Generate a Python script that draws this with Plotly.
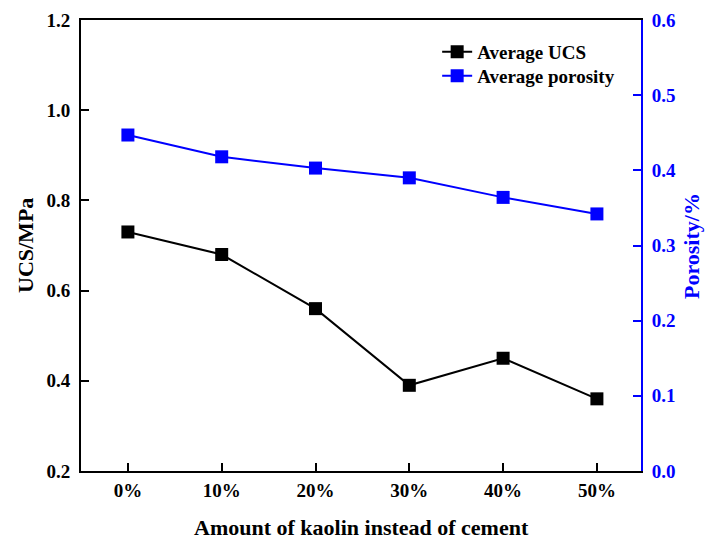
import plotly.graph_objects as go

# Kaolin replacement levels and measured averages
kaolin_levels = ["0%", "10%", "20%", "30%", "40%", "50%"]
avg_ucs = [0.73, 0.68, 0.56, 0.39, 0.45, 0.36]          # MPa
avg_porosity = [0.447, 0.418, 0.403, 0.390, 0.364, 0.342]

FONT = "Liberation Serif"
BLUE = "#0000FF"
W, H = 705, 539
M_L, M_R, M_T, M_B = 81, 64, 20, 68

fig = go.Figure()

fig.add_trace(go.Scatter(
    x=kaolin_levels, y=avg_ucs, name="Average UCS",
    mode="lines+markers",
    line=dict(color="black", width=2),
    marker=dict(symbol="square", size=13, color="black"),
    yaxis="y", legend="legend",
))

fig.add_trace(go.Scatter(
    x=kaolin_levels, y=avg_porosity, name="Average porosity",
    mode="lines+markers",
    line=dict(color=BLUE, width=2),
    marker=dict(symbol="square", size=13, color=BLUE),
    yaxis="y2", legend="legend2",
))

tick_font = dict(family=FONT, size=19, color="black", weight="bold")
legend_font = dict(family=FONT, size=19, color="black", weight="bold")


def px_to_paper_y(py):
    return (H - M_B - py) / (H - M_T - M_B)


def px_to_paper_x(px):
    return (px - M_L) / (W - M_L - M_R)


def legend_box(py):
    return dict(
        x=0.636, y=px_to_paper_y(py), xanchor="left", yanchor="middle",
        bgcolor="rgba(0,0,0,0)", borderwidth=0, font=legend_font, itemwidth=30,
    )


fig.update_layout(
    width=W, height=H,
    margin=dict(l=M_L, r=M_R, t=M_T, b=M_B),
    paper_bgcolor="white", plot_bgcolor="white",
    font=dict(family=FONT, weight="bold"),
    showlegend=True,
    legend=legend_box(52),
    legend2=legend_box(76),
    xaxis=dict(
        type="category", categoryorder="array", categoryarray=kaolin_levels,
        range=[-0.5, 5.47], automargin=False,
        showline=True, linecolor="black", linewidth=2, mirror=True,
        ticks="inside", ticklen=8, tickwidth=2, tickcolor="black",
        tickfont=tick_font, ticklabelstandoff=1,
        showgrid=False, zeroline=False,
    ),
    yaxis=dict(
        range=[0.2, 1.2], dtick=0.2, tick0=0.2, tickformat=".1f",
        automargin=False,
        showline=True, linecolor="black", linewidth=2,
        ticks="inside", ticklen=8, tickwidth=2, tickcolor="black",
        tickfont=tick_font, ticklabelstandoff=5,
        showgrid=False, zeroline=False,
    ),
    yaxis2=dict(
        range=[0.0, 0.6], dtick=0.1, tick0=0.0, tickformat=".1f",
        overlaying="y", side="right", automargin=False,
        showline=True, linecolor=BLUE, linewidth=2,
        ticks="inside", ticklen=8, tickwidth=2, tickcolor=BLUE,
        tickfont=dict(family=FONT, size=19, color=BLUE, weight="bold"),
        ticklabelstandoff=5,
        showgrid=False, zeroline=False,
    ),
)

# Axis titles placed in pixel terms around the plot area
fig.add_annotation(
    text="Amount of kaolin instead of cement",
    xref="paper", yref="paper", x=0.5, y=px_to_paper_y(527),
    xanchor="center", yanchor="middle", showarrow=False,
    font=dict(family=FONT, size=22, color="black", weight="bold"),
)
fig.add_annotation(
    text="UCS/MPa", textangle=-90,
    xref="paper", yref="paper", x=px_to_paper_x(25), y=px_to_paper_y(246),
    xanchor="center", yanchor="middle", showarrow=False,
    font=dict(family=FONT, size=22, color="black", weight="bold"),
)
fig.add_annotation(
    text="Porosity/%", textangle=-90,
    xref="paper", yref="paper", x=px_to_paper_x(691), y=px_to_paper_y(246),
    xanchor="center", yanchor="middle", showarrow=False,
    font=dict(family=FONT, size=22, color=BLUE, weight="bold"),
)

fig.write_html("out.html")
